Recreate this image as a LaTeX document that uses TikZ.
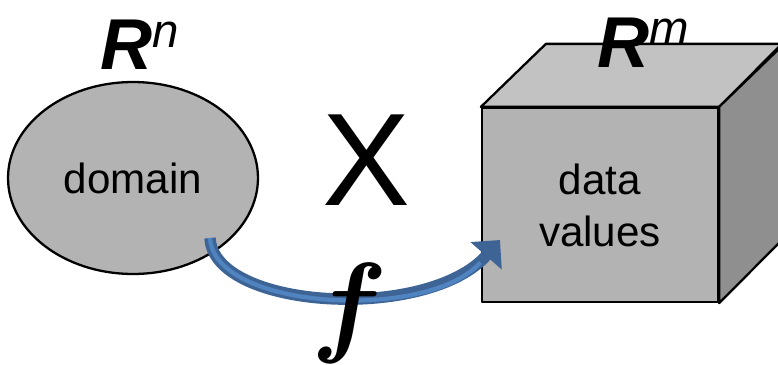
\RequirePackage{fix-cm}
\documentclass[tikz,border=0pt]{standalone}
\usepackage{fontspec}
\setmainfont{Liberation Sans}
\usepackage{amsmath,amssymb}
\usepackage{tikz}
\usetikzlibrary{arrows.meta,positioning,shapes.geometric}
\usepackage{xcolor}
\definecolor{shapefill}{HTML}{B3B3B3}
\definecolor{cubetop}{HTML}{C2C2C2}
\definecolor{cubeside}{HTML}{8F8F8F}
\definecolor{mapdark}{HTML}{3E6496}
\definecolor{maplight}{HTML}{5084C0}
\newcommand{\spacelabel}[2]{{\fontsize{41}{41}\selectfont\textbf{\textit{#1}}}%
  \raisebox{13pt}{\fontsize{27}{27}\selectfont\textit{#2}}}
\newcommand{\mapname}{\ensuremath{\boldsymbol{f}}}

\begin{document}
\begin{tikzpicture}[x=0.02cm, y=-0.02cm,
    edge/.style={draw=black, line width=1.3pt, line join=round},
    bigtext/.style={font=\fontsize{24}{29.6}\selectfont, inner sep=0pt}]
  \clip (0,0) rectangle (778,365);

  % cube for the values
  \node[edge, fill=shapefill, minimum width=4.72cm, minimum height=3.88cm,
        inner sep=0pt, bigtext, align=center] (values) at (600,205) {data\\values};
  \draw[edge, fill=cubetop] (values.north west) -- ++(65,-63) -- ++(236,0)
    -- (values.north east) -- cycle;
  \draw[edge, fill=cubeside] (values.north east) -- ++(65,-63) -- ++(0,194)
    -- (values.south east) -- cycle;

  % domain
  \node[edge, ellipse, fill=shapefill, minimum width=5cm, minimum height=3.84cm,
        inner sep=0pt] (domain) at (133,178) {};
  \node[bigtext, anchor=base] (domtext) at (133,193) {domain};

  % spaces
  \node[inner sep=0pt, anchor=base west] (rn) at (100,70) {\spacelabel{R}{n}};
  \node[inner sep=0pt, anchor=base west] (rm) at (597,67) {\spacelabel{R}{m}};
  \node[inner sep=0pt, anchor=base, font=\fontsize{75}{75}\selectfont] (cross) at (366,205) {X};

  % the map f
  \coordinate (fstart) at (210,238);
  \coordinate (fend) at (500,240);
  \draw[mapdark, line width=6.5pt, -{Triangle[width=23pt,length=12pt]}]
    (fstart) .. controls (214,310) and (428,322) .. (fend);
  \draw[maplight, line width=2.4pt, shorten >=17pt]
    (fstart) .. controls (214,310) and (428,322) .. (fend);
  \node[inner sep=0pt, anchor=base, font=\fontsize{64}{64}\selectfont] (fmap) at (350,341) {\mapname};
\end{tikzpicture}
\end{document}
